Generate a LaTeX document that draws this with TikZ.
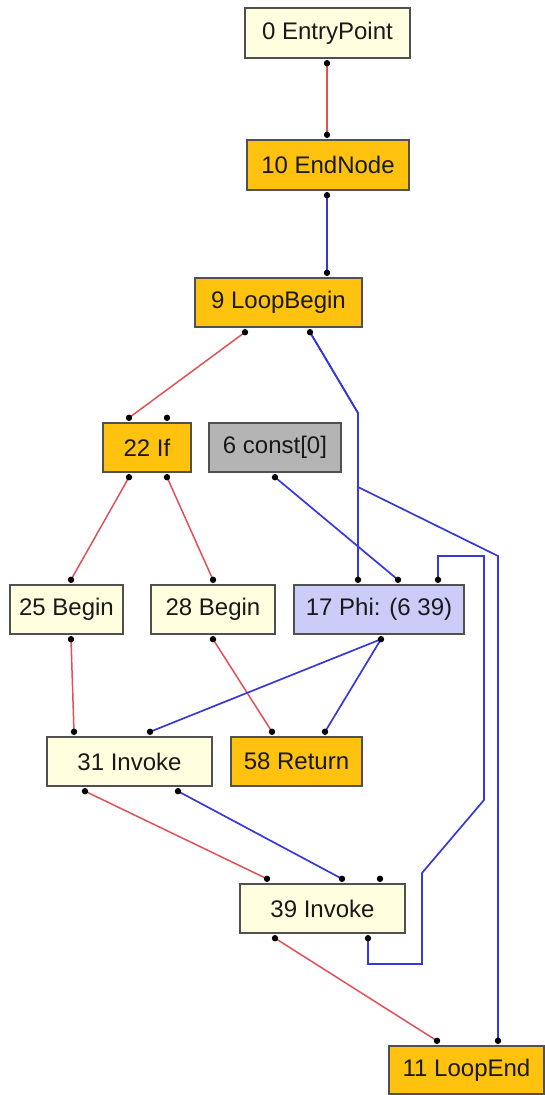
\documentclass[tikz,border=0pt]{standalone}
\usepackage{fontspec}
\setmainfont{Liberation Sans}
\usetikzlibrary{calc}
\definecolor{nodeyellow}{HTML}{FFFFDF}
\definecolor{nodeorange}{HTML}{FFC20E}
\definecolor{nodegray}{HTML}{B4B4B4}
\definecolor{nodephi}{HTML}{CCCCF8}
\definecolor{ctrlred}{HTML}{E05058}
\definecolor{datablue}{HTML}{3838D8}
\definecolor{boxline}{HTML}{505050}
\tikzset{
  gbox/.style={draw=boxline, line width=1.4pt, inner sep=0pt, font=\fontsize{24}{26}\selectfont,
    text=black!90},
  plain/.style={gbox, fill=nodeyellow},
  fixed/.style={gbox, fill=nodeorange},
  constbox/.style={gbox, fill=nodegray},
  phibox/.style={gbox, fill=nodephi},
  ctrl/.style={draw=ctrlred, line width=1.5pt},
  data/.style={draw=datablue, line width=1.7pt, line join=miter},
  pin/.style={fill=black, draw=none}
}
% port on the lower / upper side of a node at absolute x
\newcommand\outport[3]{\coordinate (#1) at ([yshift=-4.5pt]#2.south -| #3,0);}
\newcommand\inport[3]{\coordinate (#1) at ([yshift=4.5pt]#2.north -| #3,0);}
\begin{document}
\begin{tikzpicture}[x=1pt,y=-1pt]
\useasboundingbox (0,0) rectangle (545,1095);

% nodes
\node[plain,    minimum width=165pt, minimum height=50pt] (entry) at (327.5,33)   {0 EntryPoint};
\node[fixed,    minimum width=162pt, minimum height=50pt] (endn)  at (328,165)    {10 EndNode};
\node[fixed,    minimum width=167pt, minimum height=49pt] (loopb) at (278.5,302.5){9 LoopBegin};
\node[fixed,    minimum width=88pt,  minimum height=49pt] (ifn)   at (147,447.5)  {22 If};
\node[constbox, minimum width=132pt, minimum height=49pt] (cst)   at (275,447.5)  {6 const[0]};
\node[plain,    minimum width=113pt, minimum height=49pt] (bg25)  at (66.5,609.5) {25 Begin};
\node[plain,    minimum width=124pt, minimum height=49pt] (bg28)  at (213,609.5)  {28 Begin};
\node[phibox,   minimum width=170pt, minimum height=49pt] (phi)   at (379,609.5)  {17 Phi: (6 39)};
\node[plain,    minimum width=165pt, minimum height=49pt] (iv31)  at (129.5,761.5){31 Invoke};
\node[fixed,    minimum width=131pt, minimum height=49pt] (ret)   at (296.5,761.5){58 Return};
\node[plain,    minimum width=165pt, minimum height=49pt] (iv39)  at (322.5,908.5){39 Invoke};
\node[fixed,    minimum width=155pt, minimum height=48pt] (lend)  at (466.5,1070) {11 LoopEnd};

% ports
\outport{entry-o}{entry}{327}
\inport{endn-i}{endn}{327}
\outport{endn-o}{endn}{327}
\inport{loopb-i}{loopb}{327}
\outport{loopb-o1}{loopb}{245}
\outport{loopb-o2}{loopb}{310}
\inport{ifn-i1}{ifn}{129}
\inport{ifn-i2}{ifn}{167}
\outport{ifn-o1}{ifn}{129}
\outport{ifn-o2}{ifn}{167}
\outport{cst-o}{cst}{275}
\inport{phi-i1}{phi}{358}
\inport{phi-i2}{phi}{398}
\inport{phi-i3}{phi}{438}
\outport{phi-o}{phi}{381}
\inport{bg25-i}{bg25}{71}
\outport{bg25-o}{bg25}{71}
\inport{bg28-i}{bg28}{213}
\outport{bg28-o}{bg28}{213}
\inport{iv31-i1}{iv31}{74}
\inport{iv31-i2}{iv31}{150}
\outport{iv31-o1}{iv31}{85}
\outport{iv31-o2}{iv31}{178}
\inport{ret-i1}{ret}{272}
\inport{ret-i2}{ret}{325}
\inport{iv39-i1}{iv39}{267}
\inport{iv39-i2}{iv39}{342}
\inport{iv39-i3}{iv39}{380}
\outport{iv39-o1}{iv39}{275}
\outport{iv39-o2}{iv39}{368}
\inport{lend-i1}{lend}{437}
\inport{lend-i2}{lend}{498}

% bend points of the routed edges
\coordinate (lb-bend) at (358,413);
\coordinate (lb-split) at (358,487);
\coordinate (le-bend) at (498,556);
\coordinate (back1) at (368,964);
\coordinate (back2) at (422,964);
\coordinate (back3) at (422,873);
\coordinate (back4) at (484,800);
\coordinate (back5) at (484,556);
\coordinate (back6) at (438,556);

% control flow
\draw[ctrl] (entry-o) -- (endn-i);
\draw[ctrl] (loopb-o1) -- (ifn-i1);
\draw[ctrl] (ifn-o1) -- (bg25-i);
\draw[ctrl] (ifn-o2) -- (bg28-i);
\draw[ctrl] (bg25-o) -- (iv31-i1);
\draw[ctrl] (bg28-o) -- (ret-i1);
\draw[ctrl] (iv31-o1) -- (iv39-i1);
\draw[ctrl] (iv39-o1) -- (lend-i1);

% data / association edges
\draw[data] (endn-o) -- (loopb-i);
\draw[data] (loopb-o2) -- (lb-bend) -- (phi-i1);
\draw[data] (loopb-o2) -- (lb-bend) -- (lb-split) -- (le-bend) -- (lend-i2);
\draw[data] (cst-o) -- (phi-i2);
\draw[data] (phi-o) -- (iv31-i2);
\draw[data] (phi-o) -- (ret-i2);
\draw[data] (iv31-o2) -- (iv39-i2);
\draw[data] (iv39-o2) -- (back1) -- (back2) -- (back3) -- (back4) -- (back5) -- (back6) -- (phi-i3);

% port dots
\foreach \p in {entry-o,endn-i,endn-o,loopb-i,loopb-o1,loopb-o2,ifn-i1,ifn-i2,ifn-o1,ifn-o2,
  cst-o,phi-i1,phi-i2,phi-i3,phi-o,bg25-i,bg25-o,bg28-i,bg28-o,iv31-i1,iv31-i2,iv31-o1,iv31-o2,
  ret-i1,ret-i2,iv39-i1,iv39-i2,iv39-i3,iv39-o1,iv39-o2,lend-i1,lend-i2}
  \fill[pin] (\p) circle (3.2pt);
\end{tikzpicture}
\end{document}
